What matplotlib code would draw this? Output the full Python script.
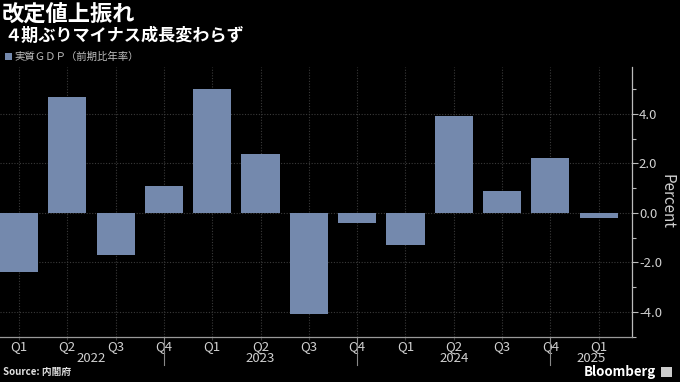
import matplotlib
matplotlib.use("Agg")
import matplotlib.pyplot as plt
from matplotlib.ticker import MultipleLocator

plt.rcParams['font.family'] = ['Noto Sans CJK JP', 'DejaVu Sans']

quarters = ["Q1", "Q2", "Q3", "Q4", "Q1", "Q2", "Q3", "Q4", "Q1", "Q2", "Q3", "Q4", "Q1"]
values = [-2.4, 4.7, -1.7, 1.1, 5.0, 2.4, -4.1, -0.4, -1.3, 3.9, 0.9, 2.2, -0.2]
years = ["2022", "2023", "2024", "2025"]
year_label_pos = [1.5, 5.0, 9.0, 11.85]
year_separators = [3, 7, 11]
yticks = [-4, -2, 0, 2, 4]

title = "改定値上振れ"
subtitle = "４期ぶりマイナス成長変わらず"
legend_label = "実質ＧＤＰ（前期比年率）"
source = "Source: 内閣府"

bg = "black"
bar_color = "#7489ad"
grid_color = "#3a3a3a"
text_color = "#d0d0d0"

fig = plt.figure(figsize=(6.8, 3.82), dpi=100, facecolor=bg)
ax = fig.add_axes([0.0, 0.1191, 0.9294, 0.7055], facecolor=bg)

x = list(range(len(values)))
ax.bar(x, values, width=0.79, color=bar_color, zorder=3)

ax.set_xlim(-0.393, 12.69)
ax.set_ylim(-5.0, 5.9)

ax.yaxis.tick_right()
ax.yaxis.set_label_position("right")
ax.set_yticks(yticks)
ax.set_yticklabels([f"{v:.1f}" for v in yticks])
ax.yaxis.set_minor_locator(MultipleLocator(1))
ax.tick_params(axis='y', which='major', colors="#bbbbbb", labelcolor=text_color,
               labelsize=9.5, length=4, width=0.8, pad=1)
ax.tick_params(axis='y', which='minor', colors="#bbbbbb", length=3, width=0.8)

ax.set_xticks(x)
ax.set_xticklabels(quarters)
ax.tick_params(axis='x', which='major', colors=grid_color, labelcolor=text_color,
               labelsize=9.5, length=2, width=0.8, pad=0.5)

ax.grid(True, which='major', color=grid_color, linestyle=(0, (1, 1.5)), linewidth=0.8, zorder=0)

for s in ["top", "left"]:
    ax.spines[s].set_visible(False)
ax.spines["right"].set_color("#bbbbbb")
ax.spines["bottom"].set_color("#999999")
ax.spines["right"].set_linewidth(0.9)
ax.spines["bottom"].set_linewidth(0.9)

ax.set_ylabel("Percent", color=text_color, fontsize=11, rotation=270, labelpad=10)

trans = ax.get_xaxis_transform()
for sx in year_separators:
    ax.plot([sx, sx], [0, -0.105], transform=trans, color="#888888", linewidth=0.8, clip_on=False)
for lab, px in zip(years, year_label_pos):
    ax.text(px, -0.082, lab, transform=trans, ha='center', va='center', color=text_color, fontsize=9.5)

fig.text(0.003, 0.963, title, color="white", fontsize=16, fontweight='bold', va='center', ha='left')
fig.text(0.006, 0.906, subtitle, color="white", fontsize=12.3, fontweight='bold', va='center', ha='left')
fig.patches.append(plt.Rectangle((0.007, 0.844), 0.010, 0.018, transform=fig.transFigure,
                                 facecolor=bar_color, edgecolor='none'))
fig.text(0.021, 0.851, legend_label, color="#c0c0c0", fontsize=7.5, va='center', ha='left')
fig.text(0.005, 0.025, source, color="#e0e0e0", fontsize=7, fontweight='bold', va='center', ha='left')
fig.text(0.964, 0.025, "Bloomberg", color="white", fontsize=9.5, fontweight='bold', va='center', ha='right')
fig.patches.append(plt.Rectangle((0.972, 0.012), 0.016, 0.028, transform=fig.transFigure,
                                 facecolor="#cccccc", edgecolor='none'))

fig.savefig("out.png", dpi=100, facecolor=bg)
